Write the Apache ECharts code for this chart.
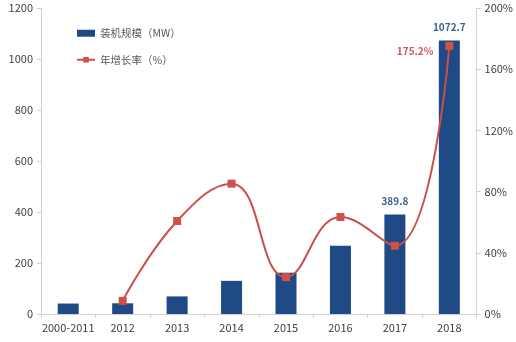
<!DOCTYPE html>
<html>
<head>
<meta charset="utf-8">
<script src="https://cdn.jsdelivr.net/npm/echarts@6/dist/echarts.min.js"></script>
<style>
html,body{margin:0;padding:0;background:#fff;}
#chart{width:516px;height:342px;}
</style>
</head>
<body>
<div id="chart"></div>
<script>
// Installed capacity (MW) and year-on-year growth (%)
var categories = ['2000-2011', '2012', '2013', '2014', '2015', '2016', '2017', '2018'];
var capacity = [41, 42, 69, 130, 162, 268, 389.8, 1072.7];
var growth = [null, 8.6, 60.8, 85.2, 24.1, 63.4, 44.6, 175.2];
var leftTicks = [0, 200, 400, 600, 800, 1000, 1200];
var rightTicks = [0, 40, 80, 120, 160, 200];
// categories whose values are printed above the mark
var labelledCapacity = ['2017', '2018'];
var labelledGrowth = ['2018'];

var FONT = 'Noto Sans CJK SC';
var BAR = '#1F4A86';
var RED = '#C8504C';

var chart = echarts.init(document.getElementById('chart'), null, {renderer: 'canvas'});

var barData = capacity.map(function (v, i) {
  return {
    value: v,
    label: {show: labelledCapacity.indexOf(categories[i]) >= 0}
  };
});
var lineData = growth.map(function (v, i) {
  return {
    value: v,
    label: {show: labelledGrowth.indexOf(categories[i]) >= 0}
  };
});

chart.setOption({
  animation: false,
  textStyle: {fontFamily: FONT},
  grid: {left: 41, right: 38, top: 8, bottom: 28},
  legend: {
    orient: 'vertical',
    left: 71,
    top: 23,
    itemGap: 16,
    itemWidth: 18,
    itemHeight: 7,
    textStyle: {color: '#595959', fontSize: 10.5, fontFamily: FONT},
    data: [
      {name: '装机规模（MW）', icon: 'rect'},
      {name: '年增长率（%）'}
    ]
  },
  xAxis: {
    type: 'category',
    data: categories,
    boundaryGap: true,
    axisLine: {lineStyle: {color: '#D0D0D0'}},
    axisTick: {show: true, length: 4, lineStyle: {color: '#D0D0D0'}},
    axisLabel: {color: '#404040', fontSize: 11, margin: 8, interval: 0}
  },
  yAxis: [
    {
      type: 'value',
      min: leftTicks[0],
      max: leftTicks[leftTicks.length - 1],
      interval: leftTicks[1] - leftTicks[0],
      splitLine: {show: false},
      axisLine: {show: true, lineStyle: {color: '#D0D0D0'}},
      axisTick: {show: true, length: 4, lineStyle: {color: '#D0D0D0'}},
      axisLabel: {color: '#404040', fontSize: 11, margin: 8, formatter: function (v) { return String(v); }}
    },
    {
      type: 'value',
      min: rightTicks[0],
      max: rightTicks[rightTicks.length - 1],
      interval: rightTicks[1] - rightTicks[0],
      splitLine: {show: false},
      axisLine: {show: true, lineStyle: {color: '#D0D0D0'}},
      axisTick: {show: true, length: 4, lineStyle: {color: '#D0D0D0'}},
      axisLabel: {color: '#404040', fontSize: 11, margin: 8, formatter: '{value}%'}
    }
  ],
  series: [
    {
      name: '装机规模（MW）',
      type: 'bar',
      yAxisIndex: 0,
      barWidth: 21,
      itemStyle: {color: BAR},
      data: barData,
      label: {
        position: 'top',
        distance: 8,
        color: '#3E5F92',
        fontWeight: 'bold',
        fontSize: 10,
        fontFamily: FONT
      },
      z: 2
    },
    {
      name: '年增长率（%）',
      type: 'line',
      yAxisIndex: 1,
      smooth: 0.45,
      connectNulls: false,
      symbol: 'rect',
      symbolSize: 8,
      lineStyle: {color: RED, width: 2},
      itemStyle: {color: '#D2504A'},
      data: lineData,
      label: {
        position: 'left',
        distance: 12,
        offset: [0, 5],
        color: '#D05A5A',
        fontWeight: 'bold',
        fontSize: 10,
        fontFamily: FONT,
        formatter: function (p) { return p.value + '%'; }
      },
      z: 3
    }
  ]
});
</script>
</body>
</html>
